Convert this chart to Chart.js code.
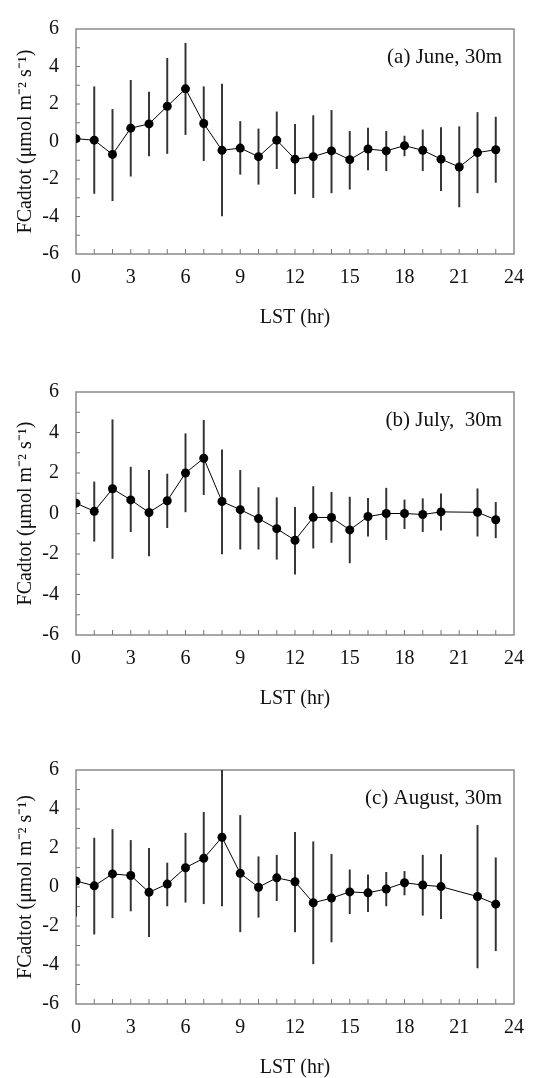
<!DOCTYPE html>
<html>
<head>
<meta charset="utf-8">
<script src="https://cdn.jsdelivr.net/npm/chart.js@4/dist/chart.umd.min.js"></script>
<style>
  html, body { margin: 0; padding: 0; background: #fff; overflow: hidden; }
  body { width: 536px; height: 1078px; position: relative; }
  canvas { position: absolute; left: 0; }
</style>
</head>
<body>
<canvas id="juneChart"></canvas>
<canvas id="julyChart"></canvas>
<canvas id="augChart"></canvas>
<script>
// Hours (LST)
const hours = [0, 1, 2, 3, 4, 5, 6, 7, 8, 9, 10, 11, 12, 13, 14, 15, 16, 17, 18, 19, 20, 21, 22, 23];
const xTicks = [0, 3, 6, 9, 12, 15, 18, 21, 24];
const yTicks = [-6, -4, -2, 0, 2, 4, 6];

// (a) June
const juneMean = [0.15, 0.07, -0.69, 0.71, 0.94, 1.88, 2.81, 0.96, -0.47, -0.35, -0.81, 0.07, -0.94, -0.81, -0.5, -0.97, -0.4, -0.5, -0.22, -0.47, -0.94, -1.36, -0.59, -0.44];
const juneHi = [null, 2.92, 1.71, 3.26, 2.64, 4.44, 5.24, 2.92, 3.06, 1.07, 0.67, 1.58, 0.91, 1.38, 1.66, 0.54, 0.71, 0.54, 0.29, 0.62, 0.74, 0.79, 1.55, 1.3];
const juneLo = [null, -2.77, -3.16, -1.85, -0.77, -0.64, 0.37, -1.02, -3.97, -1.75, -2.28, -1.45, -2.79, -2.99, -2.74, -2.54, -1.51, -1.56, -0.77, -1.56, -2.62, -3.49, -2.74, -2.18];

// (b) July
const julyMean = [0.51, 0.11, 1.22, 0.67, 0.05, 0.63, 2.0, 2.73, 0.59, 0.19, -0.25, -0.75, -1.32, -0.19, -0.2, -0.81, -0.15, 0.0, 0.0, -0.05, 0.08, null, 0.06, -0.31];
const julyHi = [null, 1.56, 4.63, 2.29, 2.13, 1.95, 3.94, 4.6, 3.15, 2.13, 1.28, 0.78, 0.31, 1.33, 1.05, 0.81, 0.75, 1.25, 0.67, 0.73, 0.97, null, 1.22, 0.55];
const julyLo = [null, -1.37, -2.22, -0.9, -2.1, -0.7, 0.08, 0.93, -1.99, -1.76, -1.76, -2.26, -2.99, -1.71, -1.43, -2.44, -1.12, -1.29, -0.75, -0.9, -0.82, null, -1.12, -1.2];

// (c) August
const augMean = [0.31, 0.06, 0.67, 0.59, -0.27, 0.15, 0.99, 1.47, 2.55, 0.7, -0.01, 0.47, 0.27, -0.81, -0.57, -0.25, -0.3, -0.1, 0.22, 0.1, 0.02, null, -0.49, -0.88];
const augHi = [0.31, 2.51, 2.95, 2.39, 1.98, 1.23, 2.76, 3.83, 6.05, 3.67, 1.55, 1.63, 2.8, 2.32, 1.68, 0.88, 0.62, 0.75, 0.8, 1.63, 1.66, null, 3.16, 1.5];
const augLo = [-1.5, -2.42, -1.58, -1.23, -2.55, -0.97, -0.78, -0.86, -0.97, -2.3, -1.55, -0.7, -2.3, -3.94, -2.82, -1.37, -1.26, -0.97, -0.41, -1.45, -1.63, null, -4.15, -3.27];

const FONT = '"Liberation Serif", "Times New Roman", serif';

// frame, inward ticks and panel label
const framePlugin = {
    id: 'frame',
    beforeDatasetsDraw(chart) {
        const {ctx, chartArea: a, scales} = chart;
        ctx.save();
        ctx.strokeStyle = '#8a8a8a';
        ctx.lineWidth = 1.5;
        ctx.strokeRect(a.left, a.top, a.right - a.left, a.bottom - a.top);
        ctx.lineWidth = 1;
        ctx.strokeStyle = '#777';
        ctx.beginPath();
        for (let v = -5; v <= 5; v++) {
            const y = scales.y.getPixelForValue(v);
            ctx.moveTo(a.left, y);
            ctx.lineTo(a.left + 4, y);
        }
        for (let h = 1; h < 24; h++) {
            const x = scales.x.getPixelForValue(h);
            ctx.moveTo(x, a.bottom);
            ctx.lineTo(x, a.bottom - 5);
        }
        ctx.stroke();
        ctx.restore();
    },
    afterDraw(chart, args, opts) {
        const {ctx, chartArea: a} = chart;
        ctx.save();
        ctx.font = '21px ' + FONT;
        ctx.fillStyle = '#111';
        ctx.textAlign = 'right';
        ctx.textBaseline = 'alphabetic';
        ctx.fillText(opts.label, a.right - 12, a.top + 34);
        ctx.restore();
    }
};

function makePanel(id, chartTop, chartBottom, label, mean, lo, hi) {
    const canvas = document.getElementById(id);
    const top = chartTop - 15;
    const height = chartBottom + 80 - top;
    canvas.style.top = top + 'px';
    canvas.width = 536;
    canvas.height = height;

    const points = hours.map((h, i) => ({x: h, y: mean[i]}));
    const bars = hours.map((h, i) => ({x: h, y: lo[i] === null ? null : [lo[i], hi[i]]}));

    return new Chart(canvas.getContext('2d'), {
        type: 'line',
        data: {
            datasets: [{
                type: 'line',
                data: points,
                borderColor: '#000',
                borderWidth: 1,
                pointRadius: 4.5,
                pointBackgroundColor: '#000',
                pointBorderColor: '#000',
                pointBorderWidth: 0,
                spanGaps: true,
                tension: 0,
                order: 1
            }, {
                type: 'bar',
                data: bars,
                backgroundColor: '#333',
                borderWidth: 0,
                barThickness: 1.3,
                order: 2
            }]
        },
        options: {
            responsive: false,
            animation: false,
            events: [],
            layout: {padding: {top: 15, right: 12, left: 0, bottom: 0}},
            plugins: {
                legend: {display: false},
                tooltip: {enabled: false},
                frame: {label: label}
            },
            scales: {
                x: {
                    type: 'linear',
                    min: 0,
                    max: 24,
                    offset: false,
                    grid: {display: false, drawTicks: false},
                    border: {display: false},
                    afterBuildTicks: s => { s.ticks = xTicks.map(v => ({value: v})); },
                    afterFit: s => { s.height = 80; },
                    ticks: {
                        padding: 12,
                        color: '#111',
                        maxRotation: 0,
                        font: {family: FONT, size: 20}
                    },
                    title: {
                        display: true,
                        text: 'LST (hr)',
                        color: '#111',
                        font: {family: FONT, size: 20},
                        padding: {top: 0, bottom: 4}
                    }
                },
                y: {
                    min: -6,
                    max: 6,
                    grid: {display: false, drawTicks: false},
                    border: {display: false},
                    afterBuildTicks: s => { s.ticks = yTicks.map(v => ({value: v})); },
                    afterFit: s => { s.width = 76; },
                    ticks: {
                        padding: 17,
                        color: '#111',
                        font: {family: FONT, size: 20}
                    },
                    title: {
                        display: true,
                        text: 'FCadtot (\u03bcmol m\u207b\u00b2 s\u207b\u00b9)',
                        color: '#111',
                        font: {family: FONT, size: 20},
                        padding: {top: 14, bottom: 0}
                    }
                }
            }
        },
        plugins: [framePlugin]
    });
}

makePanel('juneChart', 15, 254, '(a) June, 30m', juneMean, juneLo, juneHi);
makePanel('julyChart', 378, 635, '(b) July,  30m', julyMean, julyLo, julyHi);
makePanel('augChart', 756, 1004, '(c) August, 30m', augMean, augLo, augHi);
</script>
</body>
</html>
